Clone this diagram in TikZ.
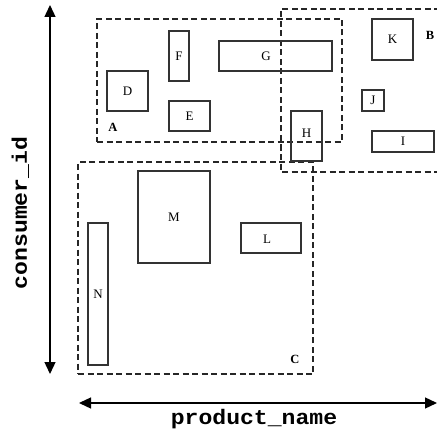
\documentclass[tikz,border=0pt]{standalone}
\usepackage{fontspec}
\setmainfont{Liberation Serif}
\setmonofont{Liberation Mono}
\usetikzlibrary{arrows.meta}
\begin{document}
\begin{tikzpicture}[x=1pt,y=-1pt,
  blk/.style={draw=black!80,line width=1.3pt,inner sep=0pt,outer sep=0pt,font=\fontsize{13}{13}\selectfont},
  blabel/.style={inner sep=0pt,font=\fontsize{13}{13}\selectfont},
  region/.style={draw=black!85,line width=1.1pt,dash pattern=on 6pt off 3.5pt,inner sep=0pt,outer sep=0pt},
  rlabel/.style={inner sep=0pt,font=\fontsize{12.5}{12.5}\selectfont\bfseries},
  axis/.style={draw=black,line width=1.3pt,{Triangle[length=12pt,width=11pt]}-{Triangle[length=12pt,width=11pt]}},
  axlabel/.style={inner sep=0pt,font=\fontsize{21}{21}\selectfont\ttfamily\bfseries}]
\useasboundingbox (0,0) rectangle (437,436);
% regions
\node[region,minimum width=245pt,minimum height=123pt] (A) at (219.5,80.5) {};
\node[region,minimum width=235pt,minimum height=212pt] (C) at (195.5,268) {};
\coordinate (Btr) at (440,9);
\coordinate (Btl) at (281,9);
\coordinate (Bbl) at (281,172);
\coordinate (Bbr) at (440,172);
\draw[region] (Btr) -- (Btl) -- (Bbl) -- (Bbr);
\node[rlabel] (Alab) at (113,127) {A};
\node[rlabel] (Blab) at (430,35) {B};
\node[rlabel] (Clab) at (295,359) {C};
% blocks
\node[blk,minimum width=41pt,minimum height=40pt] (D) at (127.5,91) {D};
\node[blk,minimum width=20pt,minimum height=50pt] (F) at (179,56) {F};
\node[blk,minimum width=41pt,minimum height=30pt] (E) at (189.5,116) {E};
\node[blk,minimum width=113pt,minimum height=30pt] (G) at (275.5,56) {};
\node[blabel] (Glab) at (266,56) {G};
\node[blk,minimum width=31pt,minimum height=50pt] (H) at (306.5,136) {};
\node[blabel] (Hlab) at (306.5,133) {H};
\node[blk,minimum width=41pt,minimum height=41pt] (K) at (392.5,39.5) {K};
\node[blk,minimum width=22pt,minimum height=21pt] (J) at (373,100.5) {J};
\node[blk,minimum width=62pt,minimum height=21pt] (I) at (403,141.5) {I};
\node[blk,minimum width=72pt,minimum height=92pt] (M) at (174,217) {M};
\node[blk,minimum width=60pt,minimum height=30pt] (L) at (271,238) {};
\node[blabel] (Llab) at (267,239) {L};
\node[blk,minimum width=20pt,minimum height=142pt] (N) at (98,294) {N};
% axes
\coordinate (ytop) at (50,5);
\coordinate (ybot) at (50,374);
\coordinate (xl) at (79,403);
\coordinate (xr) at (437,403);
\draw[axis] (ytop) -- (ybot);
\draw[axis] (xl) -- (xr);
\node[axlabel,anchor=base] (xlab) at (254,424) {\scalebox{1.1}[1]{product\_name}};
\node[axlabel,anchor=base,rotate=90] (ylab) at (27,213) {\scalebox{1.1}[1]{consumer\_id}};
\end{tikzpicture}
\end{document}
